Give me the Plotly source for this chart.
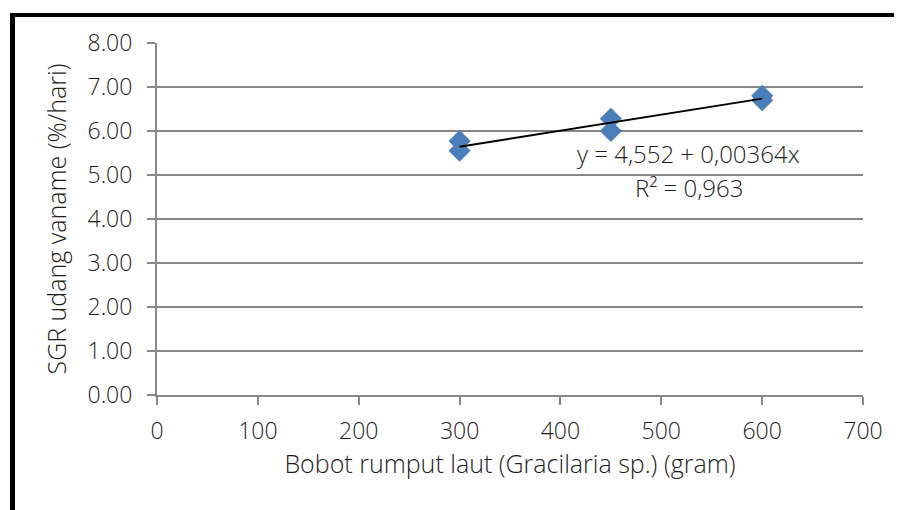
import plotly.graph_objects as go

# Data
bobot = [300, 300, 450, 450, 600, 600]
sgr = [5.77, 5.55, 6.28, 6.00, 6.80, 6.70]

# Trendline coefficients as printed on the chart
intercept = 4.552
slope = 0.00364
eq_text = "y = 4,552 + 0,00364x"
r2_text = "R² = 0,963"

x_ticks = [0, 100, 200, 300, 400, 500, 600, 700]
y_ticks = [0, 1, 2, 3, 4, 5, 6, 7, 8]
y_ticklabels = ["0.00", "1.00", "2.00", "3.00", "4.00", "5.00", "6.00", "7.00", "8.00"]

trend_x = [min(bobot), max(bobot)]
trend_y = [intercept + slope * v for v in trend_x]

FONT = "Open Sans"
TXT = "#1c1c1c"
GRID = "#878787"
FS = 23
FT = 25
W = 300

OFF = 8  # page body margin in the browser

fig = go.Figure()
fig.add_trace(go.Scatter(
    x=bobot, y=sgr, mode="markers",
    marker=dict(symbol="diamond", size=17, color="#4A7EBB", line=dict(width=0)),
    showlegend=False, hoverinfo="x+y"))
fig.add_trace(go.Scatter(
    x=trend_x, y=trend_y, mode="lines",
    line=dict(color="black", width=2),
    showlegend=False, hoverinfo="skip"))

fig.update_layout(
    width=902 - OFF, height=510 - OFF,
    margin=dict(l=157 - OFF, r=39, t=43 - OFF, b=115),
    paper_bgcolor="white", plot_bgcolor="white",
    font=dict(family=FONT, size=FS, color=TXT, weight=W),
    xaxis=dict(
        range=[0, 700], tickvals=x_ticks, ticktext=[str(v) for v in x_ticks],
        showgrid=False, zeroline=False,
        showline=True, linecolor=GRID, linewidth=2,
        ticks="outside", ticklen=8, tickwidth=2, tickcolor=GRID,
        ticklabelstandoff=6,
        tickfont=dict(family=FONT, size=FS, color=TXT, weight=W),
        title=dict(text="Bobot rumput laut (Gracilaria sp.) (gram)", standoff=10,
                   font=dict(family=FONT, size=FT, color=TXT, weight=W)),
    ),
    yaxis=dict(
        range=[0, 8], tickvals=y_ticks, ticktext=y_ticklabels,
        showgrid=True, gridcolor=GRID, gridwidth=2,
        zeroline=False,
        showline=True, linecolor=GRID, linewidth=2,
        ticks="outside", ticklen=8, tickwidth=2, tickcolor=GRID,
        ticklabelstandoff=10,
        tickfont=dict(family=FONT, size=FS, color=TXT, weight=W),
        title=dict(text="SGR udang vaname (%/hari)", standoff=14,
                   font=dict(family=FONT, size=FT, color=TXT, weight=W)),
    ),
    annotations=[
        dict(text=eq_text, x=0.753, y=(395 - 153) / 352, xref="paper", yref="paper",
             showarrow=False, xanchor="center", yanchor="middle",
             font=dict(family=FONT, size=24, color=TXT, weight=W)),
        dict(text=r2_text, x=0.754, y=(395 - 187) / 352, xref="paper", yref="paper",
             showarrow=False, xanchor="center", yanchor="middle",
             font=dict(family=FONT, size=24, color=TXT, weight=W)),
    ],
    shapes=[
        dict(type="line", xref="paper", yref="paper",
             x0=(12.5 - 157) / 706, x1=(12.5 - 157) / 706,
             y0=(395 - 13) / 352, y1=(395 - 520) / 352,
             line=dict(color="black", width=5)),
        dict(type="line", xref="paper", yref="paper",
             x0=(10 - 157) / 706, x1=(910 - 157) / 706,
             y0=(395 - 15) / 352, y1=(395 - 15) / 352,
             line=dict(color="black", width=4)),
    ],
)

fig.write_html("out.html")
